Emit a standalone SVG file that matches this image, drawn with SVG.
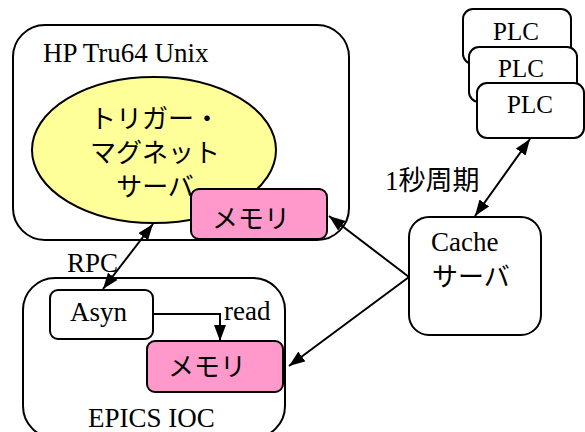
<svg xmlns="http://www.w3.org/2000/svg" width="585" height="432" viewBox="0 0 585 432">
<defs>
<style>
text{font-family:"Liberation Serif","Noto Sans CJK JP",serif;font-size:27px;fill:#000}
.jp{font-family:"Noto Sans CJK JP","Liberation Serif",sans-serif;font-size:26px}
.plc{font-size:25px}
.box{fill:#fff;stroke:#000;stroke-width:2}
.mem{fill:#ff99cc;stroke:#000;stroke-width:2}
.con{fill:none;stroke:#000;stroke-width:2}
</style>
<marker id="ah" viewBox="0 0 16 12" refX="16" refY="6" markerWidth="16" markerHeight="12" markerUnits="userSpaceOnUse" orient="auto-start-reverse">
<path d="M0,0 L16,6 L0,12 Z" fill="#000"/>
</marker>
</defs>
<g id="hp">
<rect class="box" x="13" y="25" width="336" height="215" rx="32"/>
<text x="43" y="62">HP Tru64 Unix</text>
</g>
<g id="trigger">
<ellipse cx="154" cy="150" rx="122" ry="73" fill="#ffff99" stroke="#000" stroke-width="2"/>
<text class="jp" x="155" y="128" text-anchor="middle">トリガー・</text>
<text class="jp" x="155" y="162" text-anchor="middle">マグネット</text>
<text class="jp" x="155" y="196" text-anchor="middle">サーバ</text>
</g>
<g id="mem1">
<rect class="mem" x="191" y="189" width="136" height="50" rx="8"/>
<text class="jp" x="212" y="228">メモリ</text>
</g>
<g id="plc1">
<rect class="box" x="463" y="9" width="108" height="55" rx="10"/>
<text class="plc" x="493" y="40">PLC</text>
</g>
<g id="plc2">
<rect class="box" x="469" y="47" width="108" height="55" rx="10"/>
<text class="plc" x="498" y="77">PLC</text>
</g>
<g id="plc3">
<rect class="box" x="477" y="83" width="107" height="55" rx="10"/>
<text class="plc" x="507" y="113">PLC</text>
</g>
<g id="cache">
<rect class="box" x="409" y="217" width="132" height="118" rx="20"/>
<text x="431" y="251">Cache</text>
<text class="jp" x="432" y="286">サーバ</text>
</g>
<g id="epics">
<rect class="box" x="23" y="278" width="262" height="160" rx="32"/>
<text x="88" y="427">EPICS IOC</text>
</g>
<g id="asyn">
<rect class="box" x="50" y="290" width="103" height="49" rx="8"/>
<text x="70" y="321">Asyn</text>
</g>
<g id="mem2">
<rect class="mem" x="147" y="341" width="136" height="51" rx="8"/>
<text class="jp" x="168" y="376">メモリ</text>
</g>
<g id="connectors">
<line class="con" x1="103" y1="289" x2="153" y2="224" marker-start="url(#ah)" marker-end="url(#ah)"/>
<line class="con" x1="475" y1="216" x2="530" y2="139" marker-start="url(#ah)" marker-end="url(#ah)"/>
<line class="con" x1="409" y1="277" x2="329" y2="216" marker-end="url(#ah)"/>
<line class="con" x1="409" y1="277" x2="289" y2="366" marker-end="url(#ah)"/>
<path class="con" d="M153,314 H220 V341" marker-end="url(#ah)"/>
<text x="67" y="272">RPC</text>
<text x="224" y="320">read</text>
<text x="385" y="190">1秒周期</text>
</g>
</svg>
